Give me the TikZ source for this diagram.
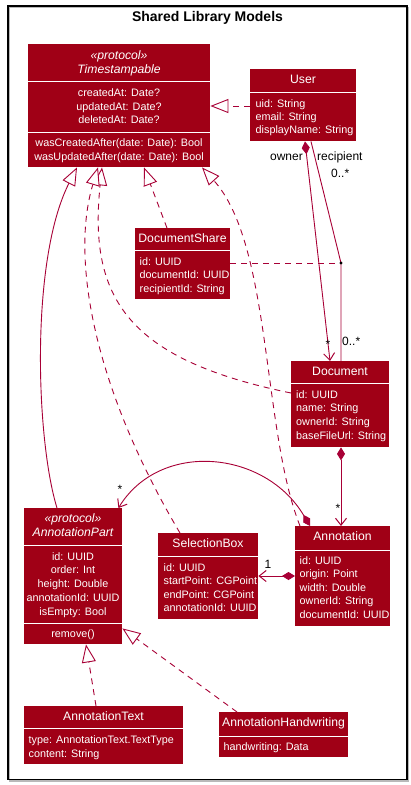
\documentclass[tikz,border=0pt]{standalone}
\usepackage{fontspec}
\setmainfont{Liberation Sans}
\usetikzlibrary{arrows.meta,calc}
\definecolor{boxfill}{HTML}{A00016}
\definecolor{umlline}{HTML}{A80036}
\begin{document}
\begin{tikzpicture}[x=1pt,y=-1pt,
  box/.style={fill=boxfill,draw=none,inner sep=0,anchor=north west},
  sepline/.style={draw=white,line width=0.8pt},
  cname/.style={text=white,font=\fontsize{12.2}{14}\selectfont,inner sep=0,anchor=mid},
  pname/.style={text=white,font=\fontsize{12.2}{14}\selectfont\itshape,inner sep=0,anchor=mid},
  attr/.style={text=white,font=\fontsize{10.8}{13}\selectfont,inner sep=0,anchor=mid west},
  cattr/.style={text=white,font=\fontsize{10.8}{13}\selectfont,inner sep=0,anchor=mid},
  lbl/.style={text=black,font=\fontsize{12}{14}\selectfont,inner sep=0},
  conn/.style={draw=umlline,line width=0.9pt},
  dashconn/.style={conn,dash pattern=on 6pt off 5pt},
  realize/.style={-{Triangle[open,length=18pt,width=14pt,fill=white,line width=0.9pt]}},
  compose/.style={{Diamond[length=13pt,width=8pt,fill=umlline]}-{Straight Barb[length=7pt,width=11pt,line width=1pt]}}
]
\useasboundingbox (0,0) rectangle (411,785);
\fill[white] (0,0) rectangle (411,785);
% frame
\draw[gray!55,line width=1.5pt] (9.5,7.5) rectangle (408.5,781);
\draw[black,line width=1.2pt] (8,6) rectangle (407,779.5);
\node[font=\fontsize{14}{16}\selectfont\bfseries,inner sep=0,anchor=mid] (title) at (207.5,19) {Shared Library Models};

% Timestampable
\node[box,minimum width=182pt,minimum height=123pt] (ts) at (28,44) {};
\node[pname] (ts0) at (119,57) {«protocol»};
\node[pname] (ts1) at (119,70.5) {Timestampable};
\draw[sepline] (28,81) -- (210,81);
\node[cattr] (ts2) at (119,94) {createdAt: Date?};
\node[cattr] (ts3) at (119,107.5) {updatedAt: Date?};
\node[cattr] (ts4) at (119,121) {deletedAt: Date?};
\draw[sepline] (28,132) -- (210,132);
\node[cattr] (ts5) at (119,144) {wasCreatedAfter(date: Date): Bool};
\node[cattr] (ts6) at (119,157.5) {wasUpdatedAfter(date: Date): Bool};

% User
\node[box,minimum width=106pt,minimum height=72pt] (user) at (250,69) {};
\node[cname] (u0) at (303,80.5) {User};
\draw[sepline] (250,92) -- (356,92);
\node[attr] (u1) at (255.5,104.5) {uid: String};
\node[attr] (u2) at (255.5,118) {email: String};
\node[attr] (u3) at (255.5,131) {displayName: String};

% DocumentShare
\node[box,minimum width=95pt,minimum height=71pt] (ds) at (135,228) {};
\node[cname] (ds0) at (182.5,239.5) {DocumentShare};
\draw[sepline] (135,250) -- (230,250);
\node[attr] (ds1) at (139.5,262.5) {id: UUID};
\node[attr] (ds2) at (139.5,276) {documentId: UUID};
\node[attr] (ds3) at (139.5,290) {recipientId: String};

% Document
\node[box,minimum width=98pt,minimum height=86pt] (doc) at (291,361) {};
\node[cname] (d0) at (340,372.5) {Document};
\draw[sepline] (291,383) -- (389,383);
\node[attr] (d1) at (296,395.5) {id: UUID};
\node[attr] (d2) at (296,409) {name: String};
\node[attr] (d3) at (296,423) {ownerId: String};
\node[attr] (d4) at (296,437) {baseFileUrl: String};

% Annotation
\node[box,minimum width=95pt,minimum height=100pt] (ann) at (295,526) {};
\node[cname] (a0) at (342.5,537.5) {Annotation};
\draw[sepline] (295,550) -- (390,550);
\node[attr] (a1) at (299.5,561.5) {id: UUID};
\node[attr] (a2) at (299.5,575) {origin: Point};
\node[attr] (a3) at (299.5,588.5) {width: Double};
\node[attr] (a4) at (299.5,602) {ownerId: String};
\node[attr] (a5) at (299.5,616) {documentId: UUID};

% SelectionBox
\node[box,minimum width=100pt,minimum height=86pt] (sb) at (158,533) {};
\node[cname] (s0) at (208,544.5) {SelectionBox};
\draw[sepline] (158,556) -- (258,556);
\node[attr] (s1) at (163.5,568.5) {id: UUID};
\node[attr] (s2) at (163.5,582) {startPoint: CGPoint};
\node[attr] (s3) at (163.5,595.5) {endPoint: CGPoint};
\node[attr] (s4) at (163.5,609) {annotationId: UUID};

% AnnotationPart
\node[box,minimum width=98pt,minimum height=136pt] (ap) at (24,508) {};
\node[pname] (p0) at (73,519.5) {«protocol»};
\node[pname] (p1) at (73,533.5) {AnnotationPart};
\draw[sepline] (24,545) -- (122,545);
\node[cattr] (p2) at (73,557.5) {id: UUID};
\node[cattr] (p3) at (73,571) {order: Int};
\node[cattr] (p4) at (73,585) {height: Double};
\node[cattr] (p5) at (73,599) {annotationId: UUID};
\node[cattr] (p6) at (73,613) {isEmpty: Bool};
\draw[sepline] (24,623) -- (122,623);
\node[cattr] (p7) at (73,635) {remove()};

% AnnotationText
\node[box,minimum width=159pt,minimum height=58pt] (at) at (24,706) {};
\node[cname] (t0) at (103.5,717.5) {AnnotationText};
\draw[sepline] (24,728) -- (183,728);
\node[attr] (t1) at (28.5,740.5) {type: AnnotationText.TextType};
\node[attr] (t2) at (28.5,754.5) {content: String};

% AnnotationHandwriting
\node[box,minimum width=129pt,minimum height=45pt] (ah) at (219,712) {};
\node[cname] (h0) at (283.5,724) {AnnotationHandwriting};
\draw[sepline] (219,736) -- (348,736);
\node[attr] (h1) at (223.5,747.5) {handwriting: Data};

% connectors: realizations into Timestampable
\draw[dashconn,realize] ([yshift=-37pt]user.north west) -- ([yshift=-62pt]ts.north east);
\draw[conn,realize] ([xshift=33pt]ap.north west) .. controls (36,440) and (30,260) .. ([xshift=49pt]ts.south west);
\draw[dashconn,realize] ([yshift=-32pt]doc.north west) .. controls (130,360) and (88,300) .. ([xshift=74pt]ts.south west);
\draw[dashconn,realize] ([xshift=22pt]sb.north west) .. controls (95,390) and (70,260) .. ([xshift=70pt]ts.south west);
\draw[dashconn,realize] ([xshift=32pt]ds.north west) -- ([xshift=116pt]ts.south west);
\draw[dashconn,realize] ([xshift=5pt]ann.north west) .. controls (262,430) and (272,245) .. ([xshift=174pt]ts.south west);

% realizations into AnnotationPart
\draw[dashconn,realize] ([xshift=72pt]at.north west) -- ([xshift=62pt]ap.south west);
\draw[dashconn,realize] ([xshift=18pt]ah.north west) -- ([yshift=16pt]ap.south east);

% associations
\coordinate (assoc) at (341,263);
\draw[conn,compose] ([xshift=55pt]user.south west) -- ([xshift=39pt]doc.north west);
\draw[conn] ([xshift=61pt]user.south west) -- (assoc) -- ([xshift=50pt]doc.north west);
\draw[dashconn] ([yshift=-35pt]ds.north east) -- (assoc);
\fill[black] (assoc) circle (1.6pt);
\draw[conn,compose] ([xshift=50pt]doc.south west) -- ([xshift=46pt]ann.north west);
\draw[conn,compose] ([yshift=-50pt]ann.north west) -- ([yshift=-43pt]sb.north east);
\draw[conn,compose] ([xshift=15pt]ann.north west) .. controls (265,450) and (160,440) .. ([xshift=-4pt]ap.north east);

% labels
\node[lbl,anchor=mid east] (lowner) at (303,158) {owner};
\node[lbl,anchor=mid west] (lrec) at (317,158) {recipient};
\node[lbl,anchor=mid west] (lrec2) at (331,175) {0..*};
\node[lbl,anchor=mid] (lst1) at (328,346) {*};
\node[lbl,anchor=mid west] (lrec3) at (342,343) {0..*};
\node[lbl,anchor=mid] (lst2) at (338,510) {*};
\node[lbl,anchor=mid] (lone) at (268,566) {1};
\node[lbl,anchor=mid] (lst3) at (120,491) {*};
\end{tikzpicture}
\end{document}
